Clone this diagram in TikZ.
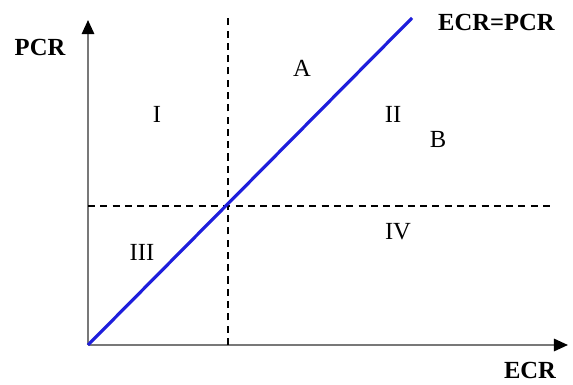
\documentclass[tikz,border=0pt]{standalone}
\usepackage{fontspec}
\setmainfont{Liberation Serif}
\usetikzlibrary{positioning, arrows.meta}
\definecolor{axisgray}{RGB}{120, 120, 120}
\definecolor{diagblue}{RGB}{30, 30, 220}

\begin{document}
\begin{tikzpicture}[x=0.02cm, y=0.02cm,
    axis/.style={draw=axisgray, line width=1.2pt, -{Triangle[length=8pt, width=7pt, color=black]}},
    guide/.style={black, line width=0.6pt, dash pattern=on 4pt off 3pt},
    region/.style={font=\fontsize{14}{16}\selectfont},
    axislabel/.style={font=\fontsize{14}{16}\selectfont\bfseries}]
                \fill[white] (0,0) rectangle (573,380);
                % Axes
                \coordinate (orig) at (88,35);
                \coordinate (ytop) at (88,360);
                \coordinate (xend) at (568,35);
                \draw[axis] (orig) -- (ytop);
                \draw[axis] (orig) -- (xend);
                \node[axislabel] (pcr) at (40,333) {PCR};
                \node[axislabel] (ecr) at (530,10) {ECR};
                
                % Dashed quadrant lines
                \coordinate (vbot) at (228,35);
                \coordinate (vtop) at (228,362);
                \coordinate (hleft) at (88,174);
                \coordinate (hright) at (555,174);
                \draw[guide] (vbot) -- (vtop);
                \draw[guide] (hleft) -- (hright);
                
                % Diagonal ECR=PCR
                \coordinate (dend) at (412,362);
                \draw[diagblue, line width=1.8pt] (orig) -- (dend);
                \node[axislabel, anchor=west] (eq) at (432,358) {ECR=PCR};
                
                % Region labels
                \node[region] (rI) at (157,266) {I};
                \node[region] (rA) at (302,312) {A};
                \node[region] (rII) at (393,266) {II};
                \node[region] (rB) at (438,241) {B};
                \node[region] (rIII) at (142,128) {III};
                \node[region] (rIV) at (398,148) {IV};
            \end{tikzpicture}
\end{document}
